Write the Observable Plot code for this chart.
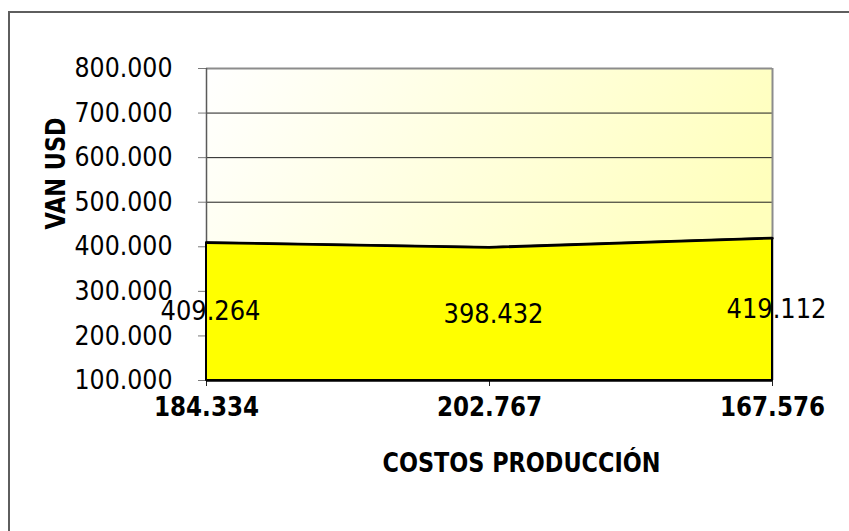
<!DOCTYPE html>
<html><head><meta charset="utf-8">
<script src="https://cdn.jsdelivr.net/npm/d3@7"></script>
<script src="https://cdn.jsdelivr.net/npm/@observablehq/plot@0.6"></script>
<style>
body{margin:0;background:#fff;}
#wrap{position:relative;width:849px;height:531px;overflow:hidden;background:#fff;}
#wrap svg{position:absolute;left:0;top:0;background:transparent;}
#border{position:absolute;left:8px;top:11px;width:900px;height:600px;border:2px solid #5e5e5e;box-sizing:border-box;pointer-events:none;}
g[aria-label^="y-axis"]{color:#7a7a7a;}
g[aria-label^="x-axis"]{color:#222;}
</style></head><body><div id="wrap"></div>
<script>
// ---- data ----
const categories = ["184.334", "202.767", "167.576"];
const van = [409264, 398432, 419112];
const yTicks = [100000, 200000, 300000, 400000, 500000, 600000, 700000, 800000];
const gridTicks = [200000, 300000, 400000, 500000, 600000, 700000];
const yMin = 100000, yMax = 800000;
const xTitle = "COSTOS PRODUCCIÓN";
const yTitle = "VAN USD";

const fmt = d3.formatLocale({thousands: ".", decimal: ",", grouping: [3], currency: ["", ""]}).format(",");
const yTickLabels = yTicks.map(fmt);
const valueLabels = van.map(fmt);
const idx = categories.map((_, i) => i);

function background(index, scales, values, dimensions) {
  const {width, height, marginLeft, marginRight, marginTop, marginBottom} = dimensions;
  const g = d3.create("svg:g");
  const grad = g.append("defs").append("linearGradient").attr("id", "bggrad")
    .attr("x1", 0).attr("y1", 0).attr("x2", 1).attr("y2", 0.35);
  grad.append("stop").attr("offset", 0).attr("stop-color", "#ffffff");
  grad.append("stop").attr("offset", 1).attr("stop-color", "#ffffbc");
  g.append("rect").attr("x", marginLeft).attr("y", marginTop)
    .attr("width", width - marginLeft - marginRight)
    .attr("height", height - marginTop - marginBottom)
    .attr("fill", "url(#bggrad)");
  return g.node();
}

const plot = Plot.plot({
  width: 849,
  height: 531,
  marginTop: 68,
  marginRight: 77,
  marginBottom: 151,
  marginLeft: 206,
  style: {fontFamily: "'DejaVu Sans Condensed', 'DejaVu Sans', sans-serif", color: "#000", background: "transparent"},
  x: {domain: [0, idx.length - 1], ticks: idx, tickFormat: () => "", tickSize: 6, label: null},
  y: {domain: [yMin, yMax], ticks: yTicks, tickFormat: () => "", tickSize: 8, label: null},
  marks: [
    background,
    Plot.ruleY(gridTicks, {stroke: "#1e1e1e", strokeWidth: 1}),
    Plot.ruleY([yMax], {stroke: "#8c8c8c", strokeWidth: 2}),
    Plot.ruleX([idx.length - 1], {stroke: "#8c8c8c", strokeWidth: 2}),
    Plot.ruleX([0], {stroke: "#5a5a5a", strokeWidth: 1.5}),
    Plot.areaY(idx, {x: i => i, y1: yMin, y2: i => van[i], fill: "#ffff00", stroke: "#000", strokeWidth: 2}),
    Plot.lineY(idx, {x: i => i, y: i => van[i], stroke: "#000", strokeWidth: 2.5}),
    Plot.ruleY([yMin], {stroke: "#000", strokeWidth: 2.5}),
    Plot.text(idx, {x: i => i, y: i => (yMin + van[i]) / 2, text: i => valueLabels[i], dx: 4, fontSize: 27, fill: "#000"}),
    Plot.text(yTicks, {frameAnchor: "left", y: d => d, text: (d, i) => yTickLabels[i], textAnchor: "end", dx: -34, fontSize: 27, fill: "#000"}),
    Plot.text(idx, {x: i => i, frameAnchor: "bottom", dy: 35, text: i => categories[i], fontWeight: "bold", fontSize: 26, fill: "#000"}),
    Plot.text([xTitle], {frameAnchor: "bottom", dx: 32, dy: 91, text: d => d, fontWeight: "bold", fontSize: 26, fill: "#000"}),
    Plot.text([yTitle], {frameAnchor: "left", dx: -150, dy: 5, rotate: -90, text: d => d, fontWeight: "bold", fontSize: 27, fill: "#000"})
  ]
});

// fit text widths to the reference
const lengths = new Map();
yTickLabels.forEach(t => lengths.set(t, 98));
valueLabels.forEach(t => lengths.set(t, 100));
categories.forEach(t => lengths.set(t, 105));
lengths.set(xTitle, 278);
lengths.set(yTitle, 112);
plot.querySelectorAll("text").forEach(el => {
  const t = el.textContent;
  if (lengths.has(t)) {
    el.setAttribute("textLength", lengths.get(t));
    el.setAttribute("lengthAdjust", "spacingAndGlyphs");
  }
});

const wrap = document.getElementById("wrap");
wrap.appendChild(plot);
const border = document.createElement("div");
border.id = "border";
wrap.appendChild(border);
</script>
</body></html>
